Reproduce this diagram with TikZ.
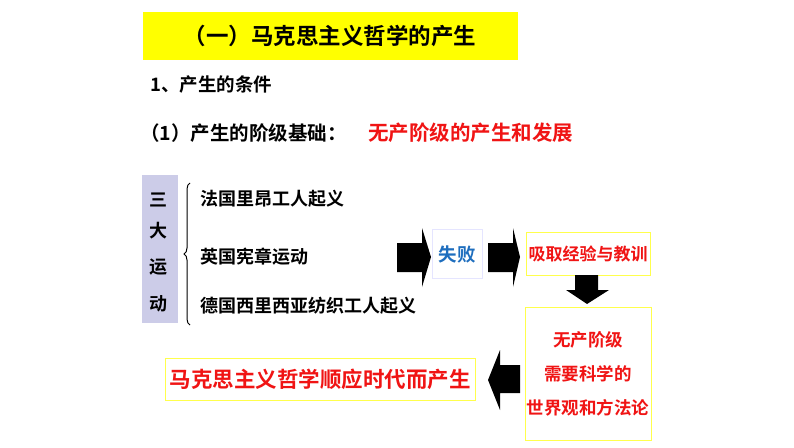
\documentclass[tikz,border=0pt]{standalone}
\usepackage{fontspec}
\setmainfont{Noto Sans CJK SC}[BoldFont={Noto Sans CJK SC Bold}]
\usetikzlibrary{decorations.pathreplacing}
\definecolor{yel}{RGB}{255,255,0}
\definecolor{lav}{RGB}{204,204,232}
\definecolor{tred}{RGB}{240,20,20}
\definecolor{tblue}{RGB}{30,110,190}
\tikzset{
  txt/.style={anchor=west,inner sep=0,font=\bfseries\fontsize{18}{20}\selectfont},
  ybox/.style={draw=yel!70!white,line width=1pt,fill=white,text=tred,font=\bfseries\fontsize{19}{34}\selectfont,align=center,inner sep=0},
  arr/.style={fill=black}
}
\begin{document}
\begin{tikzpicture}[x=1pt,y=-1pt]
\useasboundingbox (0,0) rectangle (794,447);
\fill[white] (0,0) rectangle (794,447);
\node[fill=yel,minimum width=375pt,minimum height=48pt,inner sep=0,font=\bfseries\fontsize{22.5}{24}\selectfont] (title) at (330,36) {（一）马克思主义哲学的产生};
\node[txt,font=\bfseries\fontsize{18.5}{20}\selectfont] (cond) at (150,85) {1、产生的条件};
\node[txt,font=\bfseries\fontsize{19.5}{22}\selectfont] (basis) at (140,133) {（1）产生的阶级基础：};
\node[txt,text=tred,font=\bfseries\fontsize{20.5}{22}\selectfont] (basisr) at (368,133) {无产阶级的产生和发展};
\node[fill=lav,minimum width=36pt,minimum height=148pt,inner sep=0] (side) at (160,249) {};
\foreach \c/\yy in {三/200,大/231,运/267,动/304}
  \node[inner sep=0,font=\bfseries\fontsize{18}{20}\selectfont] at (158,\yy) {\c};
\draw[decorate,decoration={brace,amplitude=6pt,mirror},line width=1pt] (190,183) -- (190,325);
\node[txt] (m1) at (200,199) {法国里昂工人起义};
\node[txt] (m2) at (200,257) {英国宪章运动};
\node[txt] (m3) at (200,306) {德国西里西亚纺织工人起义};
\node[draw=blue!10,fill=white,minimum width=50pt,minimum height=49pt,inner sep=0,text=tblue,font=\bfseries\fontsize{18.5}{20}\selectfont] (fail) at (457,254) {失败};
\node[ybox,font=\bfseries\fontsize{17}{20}\selectfont,minimum width=124pt,minimum height=43pt] (lesson) at (588,254) {吸取经验与教训};
\node[ybox,font=\bfseries\fontsize{17.5}{34}\selectfont,minimum width=126pt,minimum height=133pt] (need) at (588,374) {无产阶级\\需要科学的\\世界观和方法论};
\node[ybox,font=\bfseries\fontsize{21.5}{24}\selectfont,minimum width=310pt,minimum height=42pt] (result) at (320,379) {马克思主义哲学顺应时代而产生};
% arrows
\fill[arr] (397,243) -- (422,243) -- (422,228) -- (431,257) -- (422,287) -- (422,272) -- (397,272) -- cycle;
\fill[arr] (488,243) -- (513,243) -- (513,228) -- (520,257) -- (513,287) -- (513,272) -- (488,272) -- cycle;
\fill[arr] (575,275) -- (598,275) -- (598,290) -- (609,290) -- (587,304) -- (566,290) -- (575,290) -- cycle;
\fill[arr] (520,365) -- (500,365) -- (500,350) -- (488,380) -- (500,410) -- (500,393) -- (520,393) -- cycle;
\end{tikzpicture}
\end{document}
